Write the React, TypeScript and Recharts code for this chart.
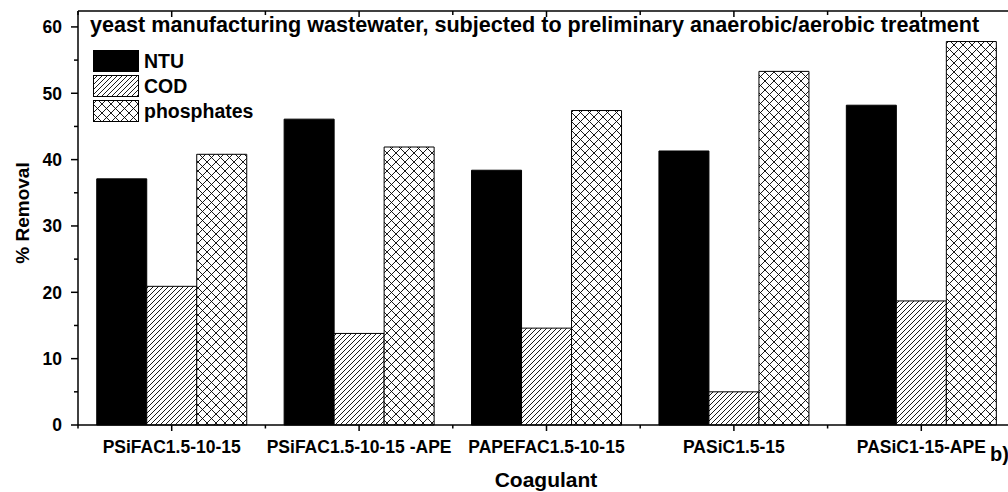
import { Bar, BarChart, Customized, XAxis, YAxis } from 'recharts';

const categories = [
  'PSiFAC1.5-10-15',
  'PSiFAC1.5-10-15 -APE',
  'PAPEFAC1.5-10-15',
  'PASiC1.5-15',
  'PASiC1-15-APE',
];
const ntu = [37.1, 46.1, 38.4, 41.3, 48.2];
const cod = [20.9, 13.8, 14.6, 5.0, 18.7];
const phosphates = [40.8, 41.9, 47.4, 53.3, 57.8];
const yTicks = [0, 5, 10, 15, 20, 25, 30, 35, 40, 45, 50, 55, 60];
const seriesNames = ['NTU', 'COD', 'phosphates'];

const data = categories.map((name, i) => ({
  name,
  ntu: ntu[i],
  cod: cod[i],
  phosphates: phosphates[i],
}));

const FONT = '"Liberation Sans", Arial, sans-serif';
const CHART_W = 1030;
const CHART_H = 492;
const LEFT = 78;
const RIGHT = 15;
const TOP = 11;
const BOTTOM = 67;
const BAND = (CHART_W - LEFT - RIGHT) / categories.length;

const fills = ['#000', 'url(#codHatch)', 'url(#phosHatch)'];

function LeftTick({ x, y, payload }: any) {
  const major = payload.value % 10 === 0;
  return (
    <g>
      <line x1={x - (major ? 7 : 4)} x2={x} y1={y} y2={y} stroke="#000" strokeWidth={1.5} />
      {major ? (
        <text x={x - 16} y={y} dy="0.36em" textAnchor="end" fontFamily={FONT} fontWeight="bold" fontSize={17.5} fill="#000">
          {payload.value}
        </text>
      ) : null}
    </g>
  );
}

function RightTick({ x, y }: any) {
  return <line x1={x - 11} x2={x} y1={y} y2={y} stroke="#000" strokeWidth={1.5} />;
}

function BottomTick({ x, y, payload, index }: any) {
  const last = index === categories.length - 1;
  return (
    <g>
      <line x1={x} x2={x} y1={y} y2={y + 6} stroke="#000" strokeWidth={1.5} />
      <line x1={x - BAND / 2} x2={x - BAND / 2} y1={y} y2={y + 3.5} stroke="#000" strokeWidth={1.5} />
      {last ? <line x1={x + BAND / 2} x2={x + BAND / 2} y1={y} y2={y + 3.5} stroke="#000" strokeWidth={1.5} /> : null}
      <text x={x} y={y + 28} textAnchor="middle" fontFamily={FONT} fontWeight="bold" fontSize={17.5} fill="#000">
        {payload.value}
      </text>
    </g>
  );
}

function TopTick({ x, y }: any) {
  return (
    <g>
      <line x1={x} x2={x} y1={y} y2={y + 6} stroke="#000" strokeWidth={1.5} />
      <line x1={x - BAND / 2} x2={x - BAND / 2} y1={y} y2={y + 4} stroke="#000" strokeWidth={1.5} />
    </g>
  );
}

// legend block inside the plot, upper left
function LegendBox() {
  return (
    <g transform="translate(93,50)">
      {seriesNames.map((name, i) => (
        <g key={name}>
          <rect x={0.5} y={i * 25 + 0.5} width={45} height={21} fill={fills[i]} stroke="#000" strokeWidth={1} />
          <text x={51} y={i * 25 + 18} fontFamily={FONT} fontWeight="bold" fontSize={19.5} fill="#000">
            {name}
          </text>
        </g>
      ))}
    </g>
  );
}

function Texts() {
  return (
    <g fontFamily={FONT} fontWeight="bold" fill="#000">
      <text x={90} y={32} fontSize={21.6}>
        yeast manufacturing wastewater, subjected to preliminary anaerobic/aerobic treatment
      </text>
      <text x={546} y={487} textAnchor="middle" fontSize={21}>
        Coagulant
      </text>
      <text transform="translate(29,213) rotate(-90)" textAnchor="middle" fontSize={19}>
        % Removal
      </text>
      <text x={990} y={461} fontSize={20}>
        b)
      </text>
    </g>
  );
}

export default function App() {
  return (
    <div style={{ position: 'absolute', left: 0, top: 0, width: 1008, height: 492, overflow: 'hidden', background: '#fff' }}>
      <BarChart
        width={CHART_W}
        height={CHART_H}
        data={data}
        margin={{ top: 0, right: 0, bottom: 0, left: 0 }}
        barCategoryGap="10%"
        barGap={0}
      >
        <defs>
          <pattern id="codHatch" patternUnits="userSpaceOnUse" width={5} height={5}>
            <rect width={5} height={5} fill="#fff" />
            <path d="M0,5 L5,0 M-1,1 L1,-1 M4,6 L6,4" stroke="#000" strokeWidth={0.9} />
          </pattern>
          <pattern id="phosHatch" patternUnits="userSpaceOnUse" width={9} height={9}>
            <rect width={9} height={9} fill="#fff" />
            <path d="M0,0 L9,9 M9,0 L0,9" stroke="#000" strokeWidth={0.9} />
          </pattern>
        </defs>
        <XAxis
          xAxisId="bottom"
          dataKey="name"
          orientation="bottom"
          height={BOTTOM}
          interval={0}
          tickSize={0}
          tickMargin={0}
          tickLine={false}
          axisLine={{ stroke: '#000', strokeWidth: 1.5 }}
          tick={<BottomTick />}
        />
        <XAxis
          xAxisId="top"
          dataKey="name"
          orientation="top"
          height={TOP}
          interval={0}
          tickSize={0}
          tickMargin={0}
          tickLine={false}
          axisLine={{ stroke: '#000', strokeWidth: 1.5 }}
          tick={<TopTick />}
        />
        <YAxis
          yAxisId="left"
          type="number"
          width={LEFT}
          domain={[0, 62.4]}
          ticks={yTicks}
          interval={0}
          tickSize={0}
          tickMargin={0}
          tickLine={false}
          axisLine={{ stroke: '#000', strokeWidth: 1.5 }}
          tick={<LeftTick />}
        />
        <YAxis
          yAxisId="right"
          orientation="right"
          type="number"
          width={RIGHT}
          domain={[0, 62.4]}
          ticks={yTicks}
          interval={0}
          tickSize={0}
          tickMargin={0}
          tickLine={false}
          axisLine={{ stroke: '#000', strokeWidth: 1.5 }}
          tick={<RightTick />}
        />
        <Bar xAxisId="bottom" yAxisId="left" dataKey="ntu" name="NTU" fill={fills[0]} stroke="#000" strokeWidth={1} isAnimationActive={false} />
        <Bar xAxisId="bottom" yAxisId="left" dataKey="cod" name="COD" fill={fills[1]} stroke="#000" strokeWidth={1} isAnimationActive={false} />
        <Bar xAxisId="bottom" yAxisId="left" dataKey="phosphates" name="phosphates" fill={fills[2]} stroke="#000" strokeWidth={1} isAnimationActive={false} />
        <Customized component={LegendBox} />
        <Customized component={Texts} />
      </BarChart>
    </div>
  );
}
